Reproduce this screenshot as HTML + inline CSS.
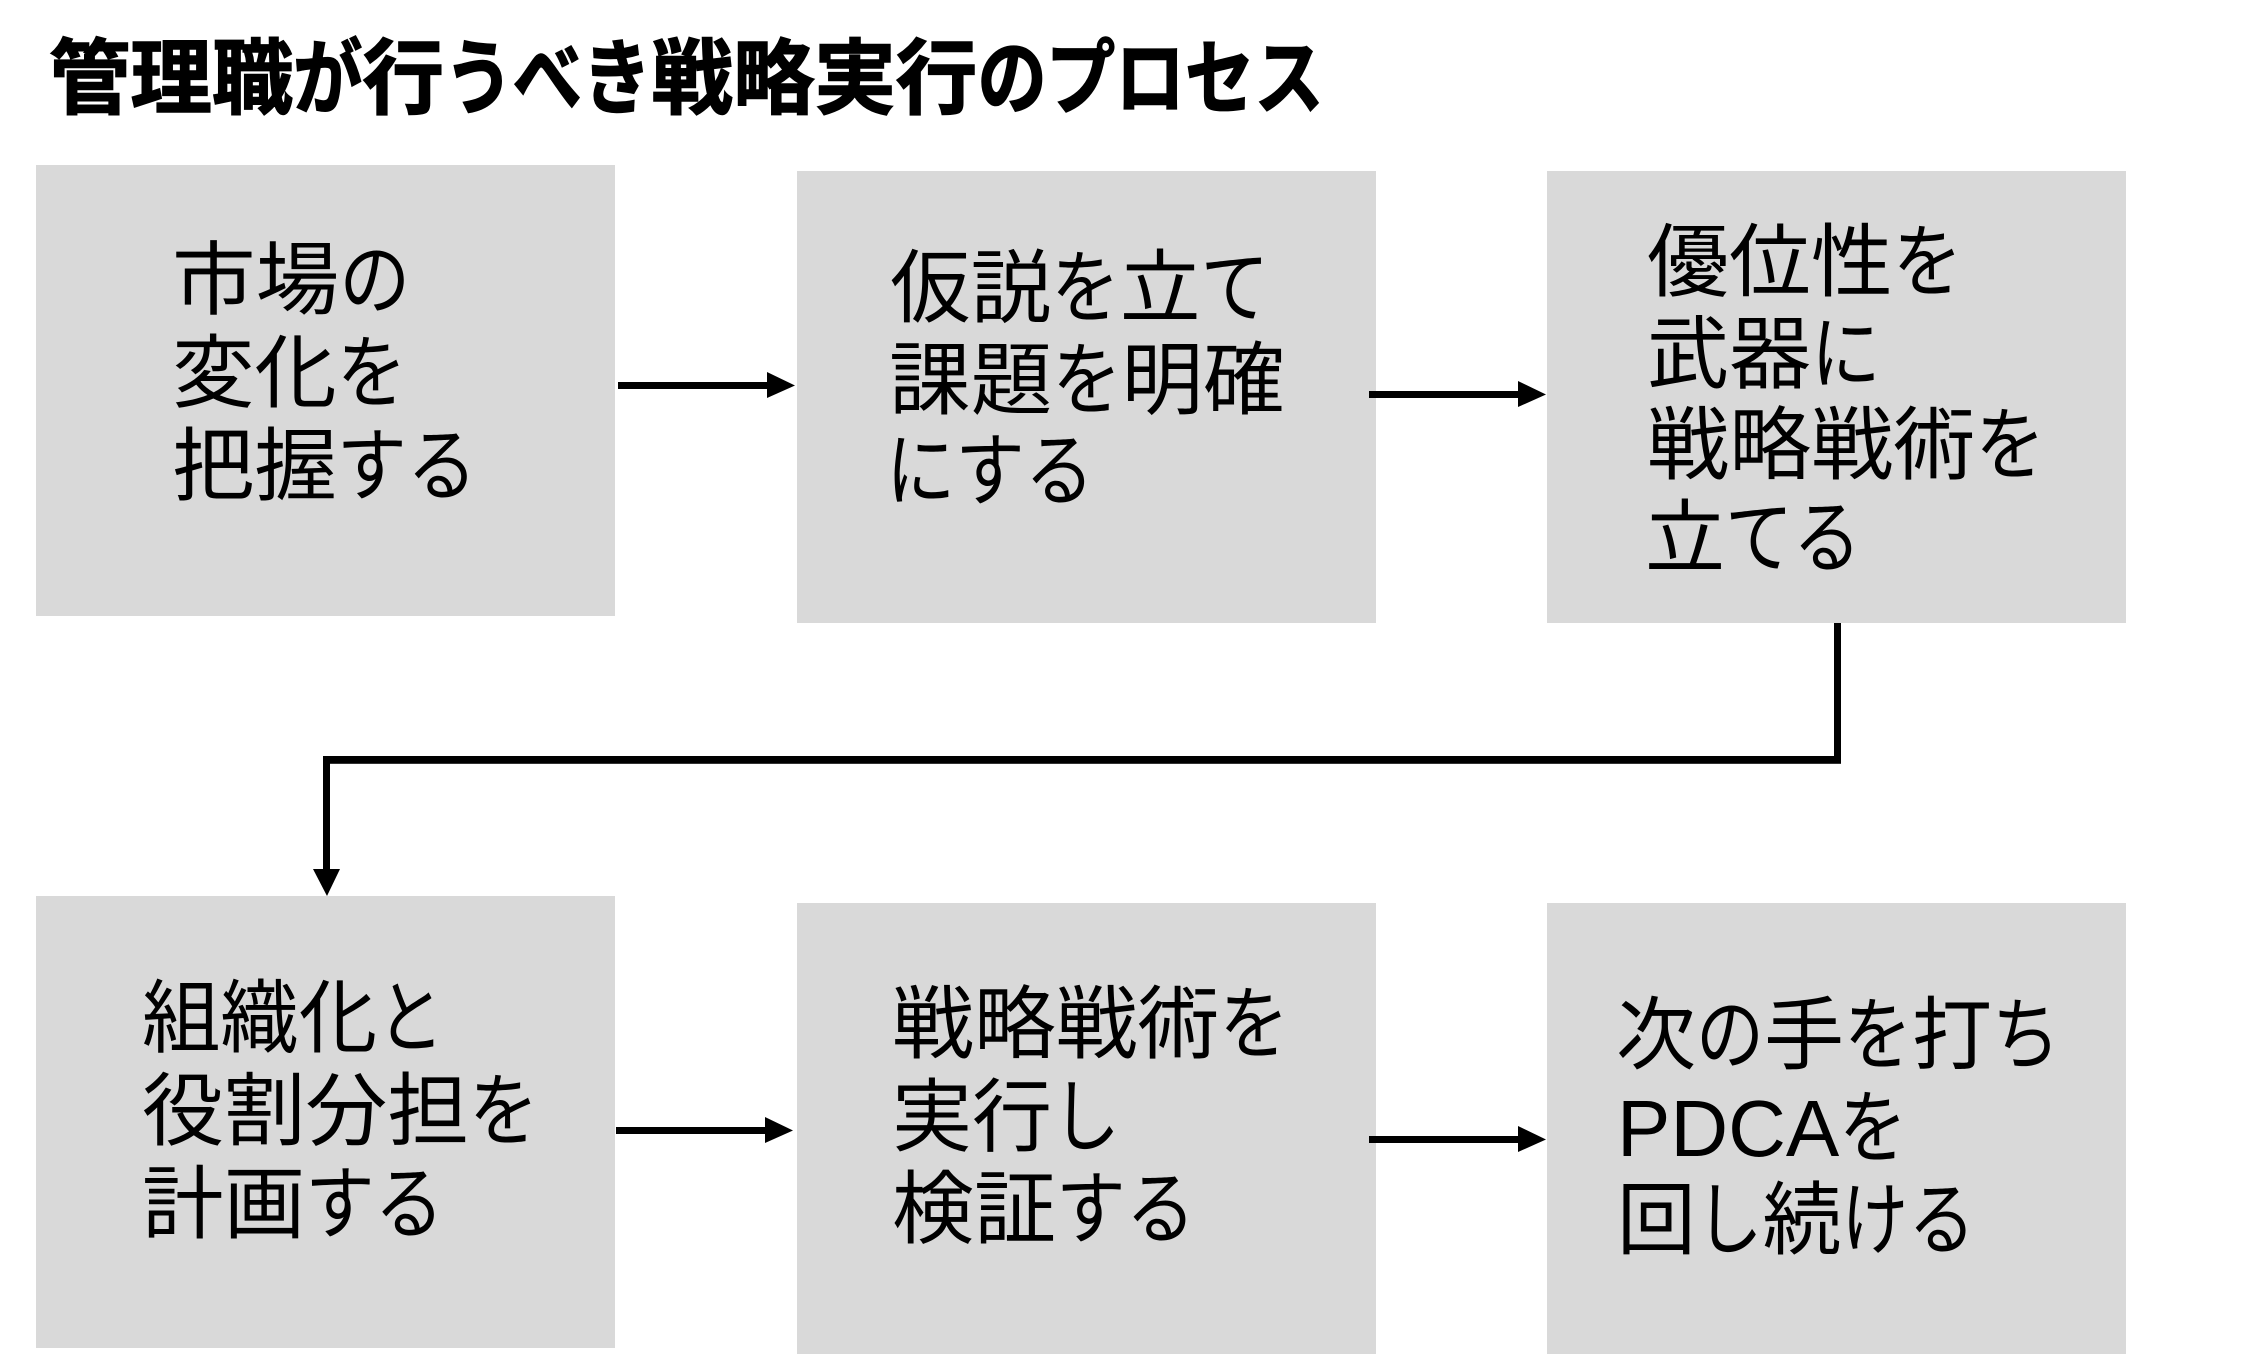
<!DOCTYPE html>
<html lang="ja">
<head>
<meta charset="utf-8">
<style>
html,body{margin:0;padding:0;background:#fff}
#p{position:relative;width:2252px;height:1354px;overflow:hidden;background:#fff;font-family:"Liberation Sans","Noto Sans CJK JP",sans-serif;color:#000}
.b{position:absolute;background:#d9d9d9;width:579px}
.l{position:absolute;white-space:nowrap;font-family:"Noto Sans CJK JP",sans-serif;font-size:80px;line-height:93px;height:93px;transform-origin:0 50%}
.k{display:inline-block;width:.85em;transform:scaleX(.85);transform-origin:0 50%}
.t{font-size:82px;font-weight:700;line-height:100px;height:100px;-webkit-text-stroke:1.5px #000}
.a{font-family:"Liberation Sans",sans-serif}
svg{position:absolute;left:0;top:0}
</style>
</head>
<body>
<div id="p">
<div class="b" style="left:36px;top:165px;height:451px"></div>
<div class="b" style="left:797px;top:171px;height:452px"></div>
<div class="b" style="left:1547px;top:171px;height:452px"></div>
<div class="b" style="left:36px;top:896px;height:452px"></div>
<div class="b" style="left:797px;top:903px;height:451px"></div>
<div class="b" style="left:1547px;top:903px;height:451px"></div>

<div class="l t" style="left:49px;top:22px;transform:scaleX(.993)">管理職<span class="k">が</span>行<span class="k">う</span><span class="k">べ</span><span class="k">き</span>戦略実行<span class="k">の</span><span class="k">プ</span><span class="k">ロ</span><span class="k">セ</span><span class="k">ス</span></div>

<div class="l" style="left:172px;top:228px;transform:scaleX(1.045)">市場<span class="k">の</span></div>
<div class="l" style="left:172px;top:321px;transform:scaleX(1.03)">変化<span class="k">を</span></div>
<div class="l" style="left:172px;top:414px;transform:scaleX(1.03)">把握<span class="k">す</span><span class="k">る</span></div>

<div class="l" style="left:890px;top:236px;transform:scaleX(1.008)">仮説<span class="k">を</span>立<span class="k">て</span></div>
<div class="l" style="left:889px;top:328px;transform:scaleX(1.02)">課題<span class="k">を</span>明確</div>
<div class="l" style="left:886px;top:419px;transform:scaleX(1.02)"><span class="k">に</span><span class="k">す</span><span class="k">る</span></div>

<div class="l" style="left:1647px;top:210px;transform:scaleX(1.024)">優位性<span class="k">を</span></div>
<div class="l" style="left:1647px;top:302px;transform:scaleX(1.025)">武器<span class="k">に</span></div>
<div class="l" style="left:1647px;top:393px;transform:scaleX(1.026)">戦略戦術<span class="k">を</span></div>
<div class="l" style="left:1645px;top:486px">立<span class="k">て</span><span class="k">る</span></div>

<div class="l" style="left:142px;top:966px;transform:scaleX(.98)">組織化<span class="k">と</span></div>
<div class="l" style="left:142px;top:1059px;transform:scaleX(1.022)">役割分担<span class="k">を</span></div>
<div class="l" style="left:142px;top:1152px;transform:scaleX(1.02)">計画<span class="k">す</span><span class="k">る</span></div>

<div class="l" style="left:892px;top:972px;transform:scaleX(1.023)">戦略戦術<span class="k">を</span></div>
<div class="l" style="left:892px;top:1065px">実行<span class="k">し</span></div>
<div class="l" style="left:892px;top:1157px;transform:scaleX(1.025)">検証<span class="k">す</span><span class="k">る</span></div>

<div class="l" style="left:1616px;top:983px">次<span class="k">の</span>手<span class="k">を</span>打<span class="k">ち</span></div>
<div class="l" style="left:1617px;top:1076px"><span class="a">PDCA</span><span class="k">を</span></div>
<div class="l" style="left:1617px;top:1168px;transform:scaleX(.984)">回<span class="k">し</span>続<span class="k">け</span><span class="k">る</span></div>

<svg width="2252" height="1354" viewBox="0 0 2252 1354">
<g fill="#000">
<rect x="618" y="382" width="150" height="7"/><polygon points="767,372 795,385.5 767,398"/>
<rect x="1369" y="391" width="150" height="7"/><polygon points="1518,381 1546,394.5 1518,407"/>
<rect x="616" y="1127" width="150" height="7"/><polygon points="765,1117 793,1130.5 765,1143"/>
<rect x="1369" y="1136" width="150" height="7"/><polygon points="1518,1126 1546,1139.5 1518,1152"/>
<polygon points="313,869 340,869 327,896"/>
<rect x="1834" y="623" width="7" height="141"/>
<rect x="323" y="756" width="1518" height="7"/>
<rect x="323" y="756" width="7" height="114"/>
</g>
<rect x="330" y="763" width="1511" height="1" fill="#333"/>
</svg>
</div>
</body>
</html>
